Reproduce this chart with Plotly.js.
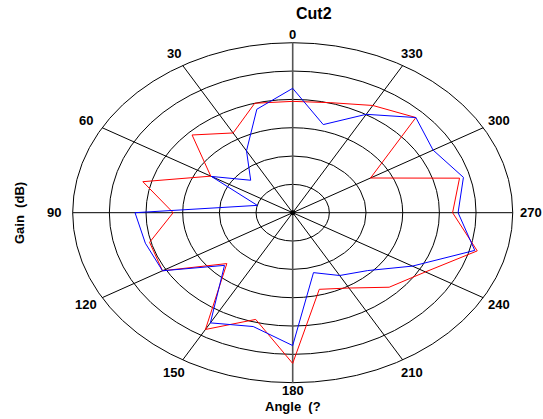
<!DOCTYPE html>
<html>
<head>
<meta charset="utf-8">
<script src="https://cdn.plot.ly/plotly-3.0.1.min.js"></script>
<style>html,body{margin:0;padding:0;background:#fff;}#chart{width:543px;height:419px;}</style>
</head>
<body>
<div id="chart"></div>
<script>
// ---- data ----
var chartTitle = "Cut2";
var xTitle = "Angle  (?";
var yTitle = "Gain  (dB)";
var angles = [0,15,30,45,60,75,90,105,120,135,150,165,180,195,210,225,240,255,270,285,300,315,330,345];
var blueGain = [4.39,3.78,2.52,1.62,2.56,1.00,4.30,4.16,4.10,2.63,4.49,4.16,4.69,2.19,2.56,2.89,3.77,5.14,4.51,4.82,4.42,4.75,4.01,3.22];
var redGain  = [3.93,4.00,3.25,3.88,2.58,4.23,3.26,4.04,4.10,2.54,4.76,3.90,5.32,2.80,3.07,3.72,4.18,5.21,4.36,4.71,2.45,4.75,4.37,4.02];
var ringValues = [1,2,3,4,5,6];
var spokeAngles = [0,30,60,90,120,150];
var tickAngles = [0,30,60,90,120,150,180,210,240,270,300,330];
var tickLabels = ["0","30","60","90","120","150","180","210","240","270","300","330"];

// ---- helpers ----
var D = Math.PI/180;
function px(r,a){ return -r*Math.sin(a*D); }
function py(r,a){ return r*Math.cos(a*D); }
function loop(rs){
  var xs=[], ys=[];
  for (var i=0;i<angles.length;i++){ xs.push(px(rs[i],angles[i])); ys.push(py(rs[i],angles[i])); }
  xs.push(xs[0]); ys.push(ys[0]);
  return {x:xs,y:ys};
}
var RMAX = ringValues[ringValues.length-1];
var FONT = "Liberation Sans, Arial, sans-serif";

var shapes = [];
ringValues.forEach(function(k){
  shapes.push({type:'circle', xref:'x', yref:'y', x0:-k, x1:k, y0:-k, y1:k,
    line:{color:'#000', width:1}, layer:'below'});
});
spokeAngles.forEach(function(a){
  shapes.push({type:'line', xref:'x', yref:'y',
    x0:px(RMAX,a), y0:py(RMAX,a), x1:px(RMAX,a+180), y1:py(RMAX,a+180),
    line:{color: a===0 ? '#555' : '#000', width: a===0 ? 1.6 : 1}, layer:'below'});
});

var annotations = [];
tickAngles.forEach(function(a,i){
  var u = px(6.5,a), v = py(6.5,a);
  if (v > 6.28) v = 6.28;
  if (v < -6.28) v = -6.28;
  annotations.push({xref:'x', yref:'y', x:u, y:v, text:'<b>'+tickLabels[i]+'</b>',
    showarrow:false, xanchor:'center', yanchor:'middle',
    font:{family:FONT, size:13, color:'#000'}});
});
annotations.push({xref:'paper', yref:'paper', x:313.7/543, y:1-13.5/419, text:'<b>'+chartTitle+'</b>',
  showarrow:false, xanchor:'center', yanchor:'middle', font:{family:FONT, size:16, color:'#000'}});
annotations.push({xref:'paper', yref:'paper', x:292.7/543, y:1-406.5/419, text:'<b>'+xTitle+'</b>',
  showarrow:false, xanchor:'center', yanchor:'middle', font:{family:FONT, size:13, color:'#000'}});
annotations.push({xref:'paper', yref:'paper', x:19/543, y:1-213/419, text:'<b>'+yTitle+'</b>',
  showarrow:false, textangle:-90, xanchor:'center', yanchor:'middle', font:{family:FONT, size:13, color:'#000'}});

var red = loop(redGain), blue = loop(blueGain);
var traces = [
  {type:'scatter', mode:'lines', x:red.x, y:red.y, line:{color:'#ff0000', width:1}, hoverinfo:'skip', name:'red'},
  {type:'scatter', mode:'lines', x:blue.x, y:blue.y, line:{color:'#0000ff', width:1}, hoverinfo:'skip', name:'blue'},
  {type:'scatter', mode:'markers', x:[0], y:[0], marker:{color:'#000', size:5}, hoverinfo:'skip', name:'center'}
];

var cx = 292.7, cy = 212.7, sx = 36.67, sy = 28.33;
var layout = {
  width:543, height:419,
  margin:{l:0,r:0,t:0,b:0,pad:0},
  paper_bgcolor:'#fff', plot_bgcolor:'#fff',
  showlegend:false,
  xaxis:{range:[-cx/sx,(543-cx)/sx], visible:false, showgrid:false, zeroline:false, fixedrange:true},
  yaxis:{range:[-(419-cy)/sy, cy/sy], visible:false, showgrid:false, zeroline:false, fixedrange:true},
  shapes:shapes,
  annotations:annotations
};
Plotly.newPlot('chart', traces, layout, {staticPlot:true, displayModeBar:false});
</script>
</body>
</html>
